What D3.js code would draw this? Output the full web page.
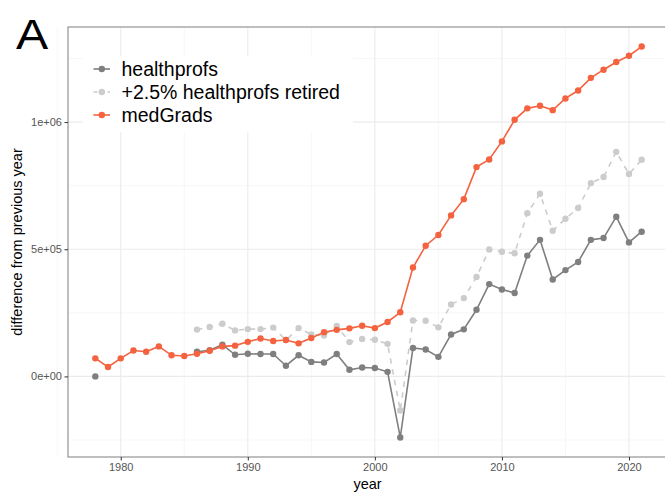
<!DOCTYPE html>
<html><head><meta charset="utf-8">
<script src="https://cdn.jsdelivr.net/npm/d3@7"></script>
<style>body{margin:0;background:#fff}svg{display:block;font-family:"Liberation Sans",Arial,sans-serif}</style>
</head><body><svg id="c" width="665" height="495"></svg>
<script>
const seriesNames = ["healthprofs", "+2.5% healthprofs retired", "medGrads"];
const seriesColors = ["#7f7f7f", "#cccccc", "#f4623f"];
const medGradsYears = d3.range(1978, 2022);
const medGrads = [71000,37000,71000,102000,97000,118000,83000,80000,89000,101000,118000,121000,136000,149000,139000,143000,130000,151000,174000,183000,189000,199000,190000,214000,252000,428000,514000,556000,633000,697000,823000,853000,924000,1009000,1054000,1064000,1047000,1093000,1124000,1174000,1206000,1236000,1261000,1297000];
const healthYears = [1978].concat(d3.range(1986, 2022));
const healthprofs = [0,97000,103000,125000,85000,89000,88000,88000,42000,83000,57000,55000,88000,26000,35000,33000,18000,-240000,112000,106000,77000,165000,185000,262000,363000,342000,328000,475000,537000,381000,418000,450000,537000,544000,628000,527000,569000];
const retiredYears = d3.range(1986, 2022);
const retired = [184000,194000,207000,181000,186000,186000,192000,143000,190000,165000,161000,198000,135000,147000,144000,128000,-134000,220000,219000,193000,283000,308000,391000,499000,490000,484000,642000,718000,573000,620000,662000,760000,784000,883000,796000,852000];
const xTicks = [1980, 1990, 2000, 2010, 2020];
const xMinor = [1975, 1985, 1995, 2005, 2015];
const yTicks = [0, 500000, 1000000];
const yTickLabels = ["0e+00", "5e+05", "1e+06"];
const yMinor = [-250000, 250000, 750000, 1250000];

const svg = d3.select("#c");
const L = 68, R = 669, T = 27, B = 457;

const allX = medGradsYears.concat(healthYears, retiredYears);
const allY = medGrads.concat(healthprofs, retired);
const xe = d3.extent(allX), ye = d3.extent(allY);
const xp = (xe[1]-xe[0])*0.05, yp = (ye[1]-ye[0])*0.05;
const x = d3.scaleLinear().domain([xe[0]-xp, xe[1]+xp]).range([L, R]);
const y = d3.scaleLinear().domain([ye[0]-yp, ye[1]+yp]).range([B, T]);

// panel grid
const g = svg.append("g");
g.selectAll(".xm").data(xMinor).join("line").attr("x1", d=>x(d)).attr("x2", d=>x(d)).attr("y1", T).attr("y2", B).attr("stroke", "#f2f2f2").attr("stroke-width", 0.6);
g.selectAll(".ym").data(yMinor).join("line").attr("y1", d=>y(d)).attr("y2", d=>y(d)).attr("x1", L).attr("x2", R).attr("stroke", "#f2f2f2").attr("stroke-width", 0.6);
g.selectAll(".xM").data(xTicks).join("line").attr("x1", d=>x(d)).attr("x2", d=>x(d)).attr("y1", T).attr("y2", B).attr("stroke", "#ebebeb").attr("stroke-width", 1.1);
g.selectAll(".yM").data(yTicks).join("line").attr("y1", d=>y(d)).attr("y2", d=>y(d)).attr("x1", L).attr("x2", R).attr("stroke", "#ebebeb").attr("stroke-width", 1.1);

// series
const series = [
  {name: seriesNames[0], xs: healthYears, ys: healthprofs, color: seriesColors[0], dash: null},
  {name: seriesNames[1], xs: retiredYears, ys: retired, color: seriesColors[1], dash: "5.5,5.5"},
  {name: seriesNames[2], xs: medGradsYears, ys: medGrads, color: seriesColors[2], dash: null}
];
const line = d3.line().defined(d => d.gap !== true).x(d=>x(d.x)).y(d=>y(d.y));
series.forEach(s => {
  const pts = [];
  s.xs.forEach((yr, i) => {
    if (i > 0 && yr - s.xs[i-1] > 1) pts.push({gap: true});
    pts.push({x: yr, y: s.ys[i]});
  });
  s.pts = pts;
  svg.append("path").attr("d", line(pts)).attr("fill", "none").attr("stroke", s.color)
    .attr("stroke-width", 1.6).attr("stroke-dasharray", s.dash);
});
series.forEach(s => {
  svg.append("g").selectAll("circle").data(s.pts.filter(p=>!p.gap)).join("circle")
    .attr("cx", d=>x(d.x)).attr("cy", d=>y(d.y)).attr("r", 3.2).attr("fill", s.color);
});

// panel border
svg.append("rect").attr("x", L).attr("y", T).attr("width", R-L).attr("height", B-T)
  .attr("fill", "none").attr("stroke", "#7f7f7f").attr("stroke-width", 1);

// axes
const xAxis = d3.axisBottom(x).tickValues(xTicks).tickFormat(d3.format("d")).tickSize(3.5).tickPadding(3);
const xg = svg.append("g").attr("transform", `translate(0,${B})`).call(xAxis);
const yAxis = d3.axisLeft(y).tickValues(yTicks).tickFormat((d,i)=>yTickLabels[i]).tickSize(3.5).tickPadding(2.5);
const yg = svg.append("g").attr("transform", `translate(${L},0)`).call(yAxis);
[xg, yg].forEach(a => {
  a.select(".domain").remove();
  a.selectAll(".tick line").attr("stroke", "#333").attr("stroke-width", 1);
  a.selectAll("text").attr("fill", "#555").attr("font-size", "11px").attr("font-family", "Liberation Sans, Arial, sans-serif");
});

// axis titles
svg.append("text").attr("x", (L+R)/2 - 1).attr("y", 489).attr("text-anchor", "middle").attr("font-size", "14.5px").attr("fill", "#000").text("year");
svg.append("text").attr("transform", `translate(21.5,${(T+B)/2}) rotate(-90)`).attr("text-anchor", "middle").attr("font-size", "14.5px").attr("fill", "#000").text("difference from previous year");

// tag
svg.append("text").attr("transform", "translate(16,49) scale(1.15,1)").attr("font-size", "42px").attr("fill", "#000").text("A");

// legend
const lg = svg.append("g");
lg.append("rect").attr("x", 83).attr("y", 56).attr("width", 270).attr("height", 76).attr("fill", "#fff");
const rows = [69, 92, 115];
series.forEach((s, i) => {
  const ry = rows[i];
  lg.append("line").attr("x1", 93.5).attr("x2", 110).attr("y1", ry).attr("y2", ry).attr("stroke", s.color).attr("stroke-width", 1.6).attr("stroke-dasharray", s.dash ? "4,3" : null);
  lg.append("circle").attr("cx", 101.8).attr("cy", ry).attr("r", 3.2).attr("fill", s.color);
  lg.append("text").attr("x", 121.5).attr("y", ry + 7).attr("font-size", "19.5px").attr("fill", "#000").text(s.name);
});
</script></body></html>
